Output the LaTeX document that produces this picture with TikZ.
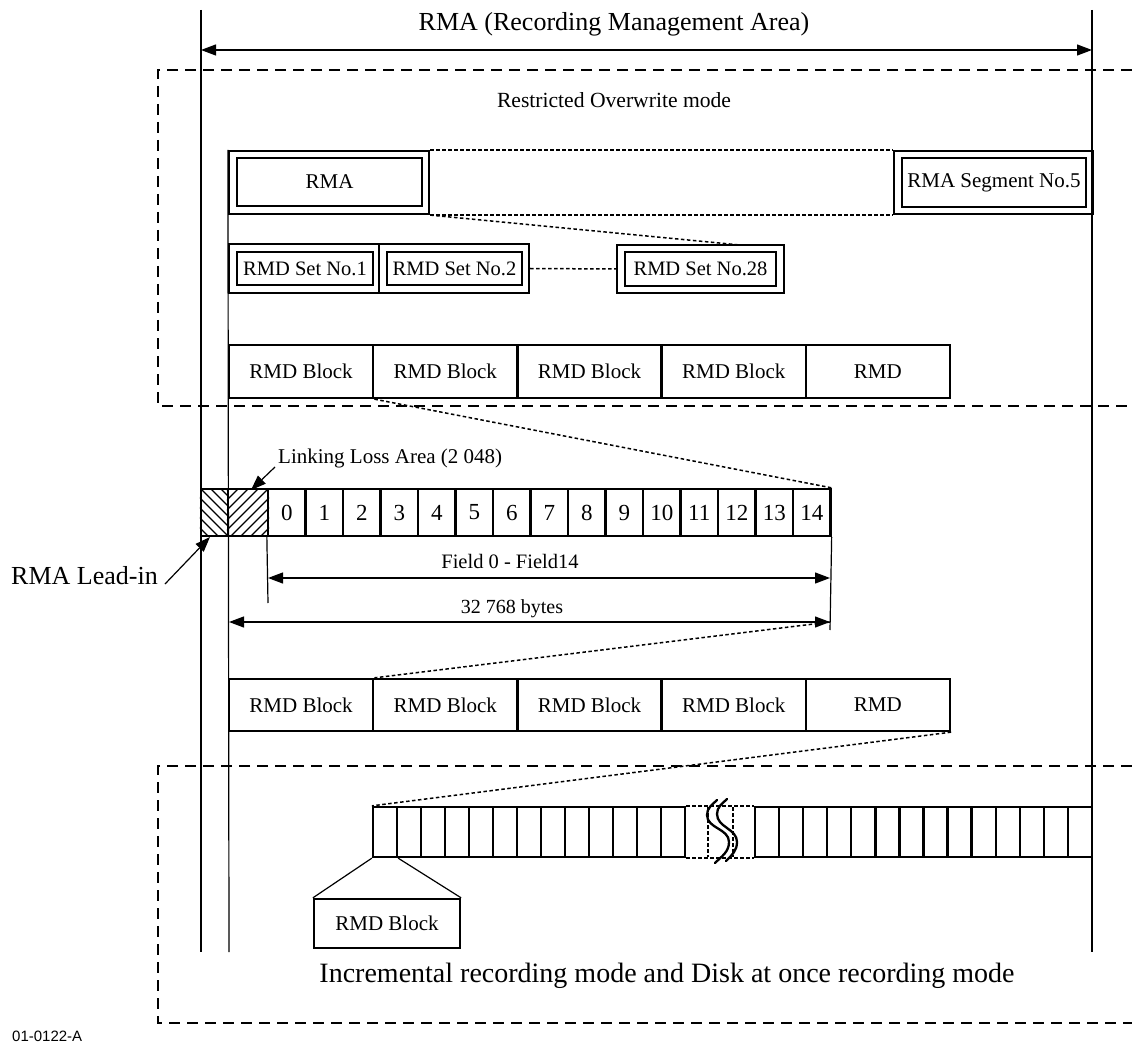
\documentclass[tikz,border=0pt]{standalone}
\usepackage{fontspec}
\setmainfont{Liberation Serif}
\newfontfamily\labfont{Liberation Sans}
\usetikzlibrary{arrows.meta,calc}
\newcommand\fsz[1]{\fontsize{#1pt}{#1pt}\selectfont}
\begin{document}
\begin{tikzpicture}[x=1pt,y=-1pt,
  >={Triangle[length=15pt,width=11pt]},
  thinl/.style={line width=1.2pt},
  box/.style={draw, line width=2.3pt, inner sep=0pt, font=\fsz{21}},
  ibox/.style={draw, line width=2.6pt, inner sep=0pt, font=\fsz{20.5}},
  obox/.style={draw, line width=2.2pt, inner sep=0pt},
  dotl/.style={line width=1.5pt, dash pattern=on 3.5pt off 2.5pt},
  dashl/.style={line width=1.7pt, dash pattern=on 11pt off 7pt},
  dim/.style={line width=1.2pt, <->},
  ptr/.style={line width=1.2pt, ->},
  hatch/.style={line width=1.3pt},
  wave/.style={line width=2.3pt, line cap=round},
  lbl/.style={inner sep=0pt},
]
\useasboundingbox (0,0) rectangle (1132,1048);

% frames
\draw[dashl] (1132,70) -- (158,70) -- (158,406) -- (1132,406);
\draw[dashl] (1132,766) -- (158,766) -- (158,1023) -- (1132,1023);

% long vertical lines
\coordinate (vLtop) at (201,10);
\coordinate (vLbot) at (201,952);
\coordinate (vRtop) at (1092,10);
\coordinate (vRbot) at (1092,952);
\coordinate (vMbot) at (229,952);
\draw[thinl] (vLtop) -- (vLbot);
\draw[thinl] (vRtop) -- (vRbot);

% top dimension
\coordinate (aL) at (201,50);
\coordinate (aR) at (1092,50);
\draw[dim] (aL) -- (aR);
\node[lbl, font=\fsz{26}, anchor=base] (title) at (614,31) {RMA (Recording Management Area)};
\node[lbl, font=\fsz{21.6}, anchor=base] (rom) at (614,108) {Restricted Overwrite mode};

% RMA and segment boxes
\node[obox, minimum width=200pt, minimum height=63pt] (rma) at (329,182.5) {};
\node[ibox, font=\fsz{21}, minimum width=185pt, minimum height=48pt] (rmai) at (329.5,182) {RMA};
\draw[thinl] (rma.north west) -- (vMbot);
\node[obox, minimum width=199pt, minimum height=63pt] (seg) at (993.5,182.5) {};
\node[ibox, font=\fsz{21}, minimum width=184pt, minimum height=49pt] (segi) at (994,182.5) {RMA Segment No.5};

% RMD sets
\node[obox, minimum width=150pt, minimum height=49pt] (set1) at (304,268.5) {};
\node[ibox, minimum width=136pt, minimum height=33pt] (set1i) at (305,268.5) {RMD Set No.1};
\node[obox, minimum width=150pt, minimum height=49pt] (set2) at (454,268.5) {};
\node[ibox, minimum width=135pt, minimum height=33pt] (set2i) at (454.5,268.5) {RMD Set No.2};
\node[obox, minimum width=167pt, minimum height=48pt] (set28) at (700.5,269) {};
\node[ibox, minimum width=151pt, minimum height=34pt] (set28i) at (700.5,269) {RMD Set No.28};
\coordinate (s28t) at (740,245);

\draw[dotl] (rma.north east) -- (seg.north west);
\draw[dotl] (rma.south east) -- (seg.south west);
\draw[dotl] (rma.south east) -- (s28t);
\draw[dotl] (set2.east) -- (set28.west);

% RMD block rows
\foreach \i/\t in {0/RMD Block,1/RMD Block,2/RMD Block,3/RMD Block,4/RMD}{
  \node[box, minimum width=144.2pt, minimum height=53pt] (ra\i) at ({229+72.1+144.2*\i},371.5) {\t};
  \node[box, minimum width=144.2pt, minimum height=52pt] (rb\i) at ({229+72.1+144.2*\i},705) {\t};
}

% field row
\node[box, minimum width=27pt, minimum height=47pt] (li) at (214.5,512.5) {};
\node[box, minimum width=40pt, minimum height=47pt] (ll) at (248,512.5) {};
\begin{scope}
  \clip (li.north west) rectangle (li.south east);
  \foreach \k in {0,...,7} \draw[hatch] ({151+10*\k},489) -- ++(47,47);
\end{scope}
\begin{scope}
  \clip (ll.north west) rectangle (ll.south east);
  \foreach \k in {0,...,9} \draw[hatch] ({181+10*\k},536) -- ++(47,-47);
\end{scope}
\node[box, minimum width=27pt, minimum height=47pt] at (li) {};
\node[box, minimum width=40pt, minimum height=47pt] at (ll) {};
\foreach \i in {0,...,14}
  \node[box, font=\fsz{23}, minimum width=37.5pt, minimum height=47pt] (f\i) at ({268+18.75+37.5*\i},512.5) {\i};

\draw[dotl] (ra0.south east) -- (f14.north east);

% labels with pointers
\node[lbl, font=\fsz{21}, anchor=base west] (lla) at (278,463) {Linking Loss Area (2 048)};
\coordinate (llaP) at (275,467);
\coordinate (llaT) at (251,490);
\draw[ptr] (llaP) -- (llaT);
\node[lbl, font=\fsz{26}, anchor=base east] (rli) at (158,584) {RMA Lead-in};
\coordinate (rliP) at (165,584);
\coordinate (rliT) at (210,537);
\draw[ptr] (rliP) -- (rliT);

% dimension lines
\coordinate (t0) at (268,603);
\coordinate (t14) at (830,630);
\draw[thinl] (f0.south west) -- (t0);
\draw[thinl] (f14.south east) -- (t14);
\coordinate (d1L) at (268,578);
\coordinate (d1R) at (830,578);
\coordinate (d2L) at (229,622);
\coordinate (d2R) at (830,622);
\draw[dim] (d1L) -- (d1R);
\draw[dim] (d2L) -- (d2R);
\node[lbl, font=\fsz{20.5}, anchor=base] (fld) at (510,568) {Field 0 - Field14};
\node[lbl, font=\fsz{20}, anchor=base] (byt) at (512,613) {32 768 bytes};

\draw[dotl] (d2R) -- (rb0.north east);

% strip of RMD blocks
\foreach \i in {0,...,12}
  \node[box, minimum width=24pt, minimum height=50pt] (sa\i) at ({373+12+24*\i},832) {};
\foreach \i in {0,...,13}
  \node[box, minimum width=24.07pt, minimum height=50pt] (sb\i) at ({755+12.035+24.07*\i},832) {};
\draw[dotl] (sa12.north east) -- (sb0.north west);
\draw[dotl] (sa12.south east) -- (sb0.south west);
\coordinate (bk1t) at (708,807);
\coordinate (bk1b) at (708,857);
\coordinate (bk2t) at (733,807);
\coordinate (bk2b) at (733,857);
\draw[dotl] (bk1t) -- (bk1b);
\draw[dotl] (bk2t) -- (bk2b);
\draw[wave] (717,800) to[out=225,in=90] (707,815) to[out=-90,in=90] (729,842) to[out=-90,in=45] (715,863);
\draw[wave] (727,799) to[out=225,in=90] (717,814) to[out=-90,in=90] (737,842) to[out=-90,in=45] (726,861);

\draw[dotl] (rb4.south east) -- (sa0.north west);

% expanded RMD block
\node[box, minimum width=146pt, minimum height=49pt] (rbk) at (387,923.5) {RMD Block};
\draw[thinl] (rbk.north west) -- (sa0.south west);
\draw[thinl] (rbk.north east) -- (sa0.south east);

\node[lbl, font=\fsz{28}, anchor=base] (irm) at (667,982) {Incremental recording mode and Disk at once recording mode};

\node[lbl, font=\labfont\fsz{15}, anchor=base west] (code) at (12,1041) {01-0122-A};
\end{tikzpicture}
\end{document}
